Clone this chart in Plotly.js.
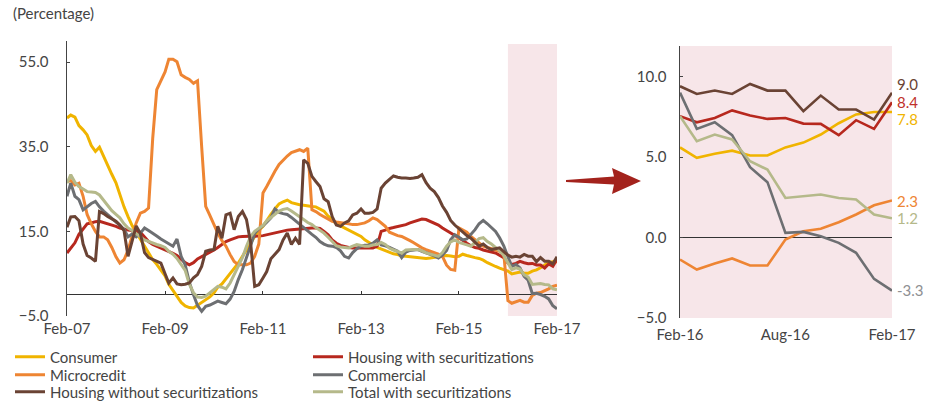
<!DOCTYPE html>
<html>
<head>
<meta charset="utf-8">
<script src="https://cdn.plot.ly/plotly-3.0.1.min.js"></script>
<style>html,body{margin:0;padding:0;background:#fff;}#chart{width:933px;height:404px;}</style>
</head>
<body>
<div id="chart"></div>
<script>
// Monthly observations, Feb-07 .. Feb-17 (121 months)
const startYear = 2007, startMonth = 2, nMonths = 121;
const dates = [];
for (let i = 0; i < nMonths; i++) {
  const t = startMonth - 1 + i;
  const y = startYear + Math.floor(t / 12);
  const m = (t % 12) + 1;
  dates.push(y + '-' + String(m).padStart(2, '0') + '-01');
}

const seriesNames = ['Consumer', 'Housing with securitizations', 'Microcredit', 'Commercial', 'Housing without securitizations', 'Total with securitizations'];

const consumer = [41.8,42.5,42.0,40.0,39.0,37.8,35.3,33.9,34.9,32.6,
30.5,28.5,26.5,23.5,20.8,18.5,16.3,14.8,13.2,11.5,
9.8,8.3,7.2,5.8,4.5,2.5,1.0,-0.5,-1.8,-2.6,
-3.0,-3.1,-2.5,-1.8,-1.2,-0.5,0.5,1.8,2.6,3.8,
4.8,6.0,7.5,9.1,10.5,12.2,13.8,15.2,16.2,17.6,
19.0,20.3,21.5,22.0,22.4,21.8,21.5,21.3,21.2,21.0,
20.9,20.8,20.3,19.8,18.6,17.6,16.8,16.3,15.8,15.3,
14.8,14.3,13.8,13.0,12.3,11.8,11.2,10.8,10.4,10.0,
9.7,9.5,9.2,9.1,9.0,8.8,8.7,8.7,8.6,8.7,
8.8,9.0,9.2,9.3,9.2,9.0,9.1,9.6,9.3,9.0,
8.8,8.6,8.2,7.6,7.1,6.7,6.3,6.0,
5.6,4.95,5.2,5.4,5.1,5.1,5.6,5.9,6.4,7.1,7.65,7.8,7.8];

const housingWith = [9.9,11.0,12.3,14.3,15.6,16.8,17.0,17.3,17.4,17.1,
16.9,16.6,16.2,15.8,15.5,15.3,15.2,15.1,14.8,13.8,
12.6,11.9,11.5,11.0,10.7,10.3,9.8,9.3,8.4,7.6,
7.1,7.6,8.5,9.0,9.6,10.1,10.6,11.2,12.0,12.6,
13.0,13.4,13.7,13.8,13.8,13.8,13.8,13.9,14.0,14.2,
14.5,14.8,15.0,15.2,15.3,15.4,15.5,15.6,15.7,15.7,
15.8,15.8,15.7,15.0,14.2,13.0,12.2,11.7,11.4,11.2,
11.1,11.1,11.0,11.1,11.1,11.1,11.5,15.0,15.3,15.7,
15.9,16.1,16.4,16.6,17.0,17.3,17.7,17.9,17.8,17.4,
17.0,16.5,15.8,15.2,14.8,14.2,13.5,12.9,12.2,11.6,
11.2,11.0,10.6,10.3,10.1,9.9,9.4,8.8,
7.54,7.16,7.43,7.9,7.58,7.37,7.43,7.08,7.06,6.36,7.29,6.75,8.4];

const microcredit = [26.8,27.0,26.0,26.4,23.3,19.0,16.8,15.0,13.7,13.7,
13.0,11.2,9.0,7.5,8.3,10.5,14.0,17.0,19.3,19.7,
20.5,37.0,48.5,50.8,52.7,55.7,55.7,55.1,52.0,51.4,
50.9,50.0,50.6,35.0,20.9,18.8,16.5,14.6,12.8,11.5,
9.5,7.9,7.1,7.1,7.1,7.5,9.1,12.0,24.1,25.6,
27.5,29.2,30.8,31.9,32.8,33.6,34.0,34.3,33.9,34.7,
20.1,19.7,19.0,18.5,17.8,17.4,17.2,17.0,16.9,16.8,
16.6,16.6,16.8,17.0,17.5,18.2,17.8,17.0,16.2,14.8,
14.4,14.0,13.8,13.2,12.8,12.3,11.6,11.1,10.7,10.4,
10.0,9.6,9.1,7.0,6.0,5.8,15.8,15.3,14.8,13.8,
13.0,12.3,11.5,11.2,10.9,10.7,10.3,9.9,
-1.37,-1.99,-1.61,-1.3,-1.74,-1.74,-0.12,0.39,0.54,0.95,1.43,2.0,2.3];

const commercial = [23.3,26.4,23.3,22.5,20.1,20.9,21.6,22.1,20.8,19.8,
18.9,18.0,17.2,16.4,15.5,13.7,14.4,13.7,14.6,15.8,
15.2,14.6,13.9,13.2,12.6,12.0,11.5,13.2,9.1,7.1,
3.0,0.0,-2.5,-3.9,-2.7,-2.4,-2.0,-1.5,-1.8,-2.1,
-1.0,0.8,3.6,6.0,8.8,11.8,14.5,15.6,16.3,17.2,
18.2,20.3,19.5,19.2,19.0,18.3,17.5,16.6,15.8,15.2,
14.3,13.6,12.6,12.0,11.6,11.5,11.2,10.4,9.1,8.7,
10.0,10.9,11.5,11.7,11.8,12.2,13.0,11.8,11.6,11.2,
10.8,10.3,8.8,10.1,10.5,10.6,10.7,10.3,10.0,9.6,
9.2,8.7,9.4,10.5,13.0,14.2,13.6,13.0,13.2,14.2,
15.4,16.8,17.6,16.8,16.0,15.0,13.5,11.6,
9.0,6.75,7.16,6.36,4.37,3.44,0.29,0.35,0.08,-0.33,-0.95,-2.57,-3.3];

const housingWithout = [16.0,18.4,18.5,17.5,12.0,9.3,8.7,7.9,19.7,19.2,
18.5,18.0,17.4,16.5,15.2,9.1,13.0,16.3,14.5,10.0,
8.8,8.3,8.0,7.5,5.0,2.8,4.0,2.6,2.4,2.5,
2.8,4.0,4.8,6.7,10.3,10.6,10.7,16.2,13.4,18.9,
19.3,15.4,18.5,19.7,17.8,12.3,2.0,2.4,4.0,5.5,
8.5,9.5,10.7,13.0,14.6,11.9,13.4,11.9,31.9,31.1,
28.0,26.8,25.6,22.7,22.0,18.5,16.5,16.2,17.0,17.5,
18.9,19.3,20.3,19.3,19.3,19.5,20.3,25.2,26.4,27.3,
28.1,27.8,27.6,27.6,27.5,27.6,27.8,28.4,26.5,25.2,
24.4,23.0,21.0,19.5,17.6,16.5,15.6,14.8,14.0,13.4,
12.5,11.5,12.0,11.2,10.7,10.9,11.1,10.2,
9.4,8.92,9.13,8.92,9.54,9.13,9.13,7.85,8.82,7.95,7.95,7.33,9.0];

const totalWith = [26.4,28.4,26.6,25.6,25.0,24.4,24.3,24.2,23.6,22.3,
21.0,19.9,19.0,18.2,16.8,15.8,15.2,14.4,13.7,13.0,
12.6,12.3,11.9,11.6,11.2,10.3,9.6,8.6,7.2,5.8,
2.5,0.5,-0.5,-0.6,-0.3,0.5,1.3,2.0,1.8,1.4,
2.8,4.8,6.7,8.8,11.5,13.8,15.0,15.8,16.4,17.5,
18.3,19.2,19.8,20.2,20.4,19.8,19.2,18.5,17.8,17.1,
16.6,15.9,15.2,14.6,13.6,12.6,11.6,11.3,11.2,11.1,
11.5,11.9,11.7,11.5,11.5,11.8,11.9,12.4,11.9,11.0,
10.6,10.2,9.9,10.6,10.7,10.7,10.7,10.4,9.9,9.6,
9.3,9.1,10.0,11.5,12.5,13.0,12.4,12.2,11.8,11.5,
12.4,13.3,13.5,12.6,12.0,11.2,10.4,9.3,
7.54,5.98,6.4,6.09,4.74,4.22,2.46,2.57,2.67,2.46,2.36,1.43,1.2];

const zoomStart = '2016-02-01';
const zoomEnd = '2017-02-01';

// ---- styling ----
const colors = ['#F0B400', '#B7281E', '#EE8533', '#6D6F72', '#6A4334', '#B5B98A'];
const labelColors = ['#F0B400', '#C0302A', '#EE8533', '#8E8F92', '#6A4334', '#B5B98A'];
const labelShift = [-7, 0, 0, 1, 9, 0];
const allSeries = [consumer, housingWith, microcredit, commercial, housingWithout, totalWith];
const drawOrder = [0, 1, 2, 3, 5, 4];
const FONT = 'Lato, "Open Sans", sans-serif';
const TXT = '#444';

const W = 933, H = 404;
const px = v => v / W, py = v => 1 - v / H;
const L = {x0: 67, x1: 557, yTop: 41, yBot: 316};
const R = {x0: 680, x1: 892, yTop: 46, yBot: 318};
const lYRange = [-5, 60];
const rYRange = [-5, 11.9];

// legend slots: [legend id, x px, y px] for each series (by series index)
const legendSlots = [
  ['legend', 10, 357], ['legend4', 308, 357],
  ['legend2', 10, 375], ['legend5', 308, 375],
  ['legend3', 10, 392], ['legend6', 308, 392]
];

const zi = dates.indexOf(zoomStart);
const traces = [];
drawOrder.forEach(k => {
  traces.push({x: dates, y: allSeries[k], type: 'scatter', mode: 'lines', name: seriesNames[k],
    line: {color: colors[k], width: 3}, xaxis: 'x', yaxis: 'y', legend: legendSlots[k][0], hoverinfo: 'skip'});
});
drawOrder.forEach(k => {
  traces.push({x: dates.slice(zi), y: allSeries[k].slice(zi), type: 'scatter', mode: 'lines', name: seriesNames[k],
    line: {color: colors[k], width: 2.6}, xaxis: 'x3', yaxis: 'y3', showlegend: false, hoverinfo: 'skip'});
});
// helper trace so that the zero-line tick axis is drawn
traces.push({x: dates, y: consumer, type: 'scatter', mode: 'lines', line: {width: 0}, opacity: 0,
  xaxis: 'x2', yaxis: 'y', showlegend: false, hoverinfo: 'skip'});

const lDom = [py(L.yBot), py(L.yTop)];
const rDom = [py(R.yBot), py(R.yTop)];
const zeroPos = lDom[0] + (0 - lYRange[0]) / (lYRange[1] - lYRange[0]) * (lDom[1] - lDom[0]);

const FS = 15;
const axisFont = {family: FONT, size: FS, color: TXT};

const annotations = [
  {text: '(Percentage)', x: px(11), y: py(13), xref: 'paper', yref: 'paper', xanchor: 'left', yanchor: 'middle',
   showarrow: false, font: {family: FONT, size: 15, color: TXT}}
];
[4, 1, 0, 2, 5, 3].forEach(k => {
  const s = allSeries[k];
  const v = s[s.length - 1];
  annotations.push({text: v.toFixed(1), x: dates[dates.length - 1], y: v, xref: 'x3', yref: 'y3',
    xanchor: 'left', yanchor: 'middle', xshift: 3, yshift: labelShift[k], showarrow: false,
    font: {family: FONT, size: 15, color: labelColors[k]}});
});

// arrow between panels (decoration)
const arrowPts = [[566, 180], [614, 176.5], [612, 168], [641, 181], [612, 194], [614, 184.5], [566, 182]];
const arrowPath = 'M' + arrowPts.map(p => px(p[0]) + ',' + py(p[1])).join(' L') + ' Z';

const shapes = [
  {type: 'rect', xref: 'x', yref: 'paper', x0: zoomStart, x1: zoomEnd, y0: lDom[0], y1: py(44),
   fillcolor: '#F7E6E9', line: {width: 0}, layer: 'below'},
  {type: 'rect', xref: 'x3 domain', yref: 'y3 domain', x0: 0, x1: 1, y0: 0, y1: 1,
   fillcolor: '#F7E6E9', line: {width: 0}, layer: 'below'},
  {type: 'path', xref: 'paper', yref: 'paper', path: arrowPath, fillcolor: '#A3221C', line: {width: 0}}
];

const layout = {
  width: W, height: H,
  margin: {l: 0, r: 0, t: 0, b: 0, autoexpand: false},
  paper_bgcolor: '#fff', plot_bgcolor: 'rgba(0,0,0,0)',
  font: {family: FONT, size: FS, color: TXT},
  showlegend: true,
  xaxis: {domain: [px(L.x0), px(L.x1)], type: 'date', range: [dates[0], dates[dates.length - 1]],
    tick0: dates[0], dtick: 'M24', tickformat: '%b-%y', showgrid: false, zeroline: false, showline: false,
    ticks: '', tickfont: axisFont, ticklabelstandoff: 2, anchor: 'y', fixedrange: true},
  xaxis2: {overlaying: 'x', matches: 'x', anchor: 'free', position: zeroPos, type: 'date',
    tick0: dates[0], dtick: 'M24', ticks: 'inside', ticklen: 4, tickcolor: '#333', showticklabels: false,
    showgrid: false, zeroline: false, showline: false},
  yaxis: {domain: lDom, range: lYRange, tick0: -5, dtick: 20, tickformat: '.1f', showgrid: false,
    zeroline: true, zerolinecolor: '#333', zerolinewidth: 1, showline: true, linecolor: '#444', linewidth: 1.5,
    ticks: 'inside', ticklen: 3, tickcolor: '#444', tickfont: axisFont, ticklabelstandoff: 14, anchor: 'x'},
  xaxis3: {domain: [px(R.x0), px(R.x1)], type: 'date', range: [zoomStart, zoomEnd], tick0: zoomStart, dtick: 'M6',
    tickformat: '%b-%y', showgrid: false, zeroline: false, showline: false, ticks: '', tickfont: axisFont,
    ticklabelstandoff: 6, anchor: 'y3'},
  yaxis3: {domain: rDom, range: rYRange, tick0: -5, dtick: 5, tickformat: '.1f', showgrid: false,
    zeroline: true, zerolinecolor: '#333', zerolinewidth: 1, showline: true, linecolor: '#444', linewidth: 1.5,
    ticks: 'inside', ticklen: 3, tickcolor: '#444', tickfont: axisFont, ticklabelstandoff: 9, anchor: 'x3'},
  annotations: annotations,
  shapes: shapes
};
legendSlots.forEach(s => {
  layout[s[0]] = {x: px(s[1]), y: py(s[2]), xanchor: 'left', yanchor: 'middle', orientation: 'v',
    bgcolor: 'rgba(0,0,0,0)', font: {family: FONT, size: FS, color: TXT}, itemwidth: 30};
});

Plotly.newPlot('chart', traces, layout, {staticPlot: true, displayModeBar: false});
</script>
</body>
</html>
